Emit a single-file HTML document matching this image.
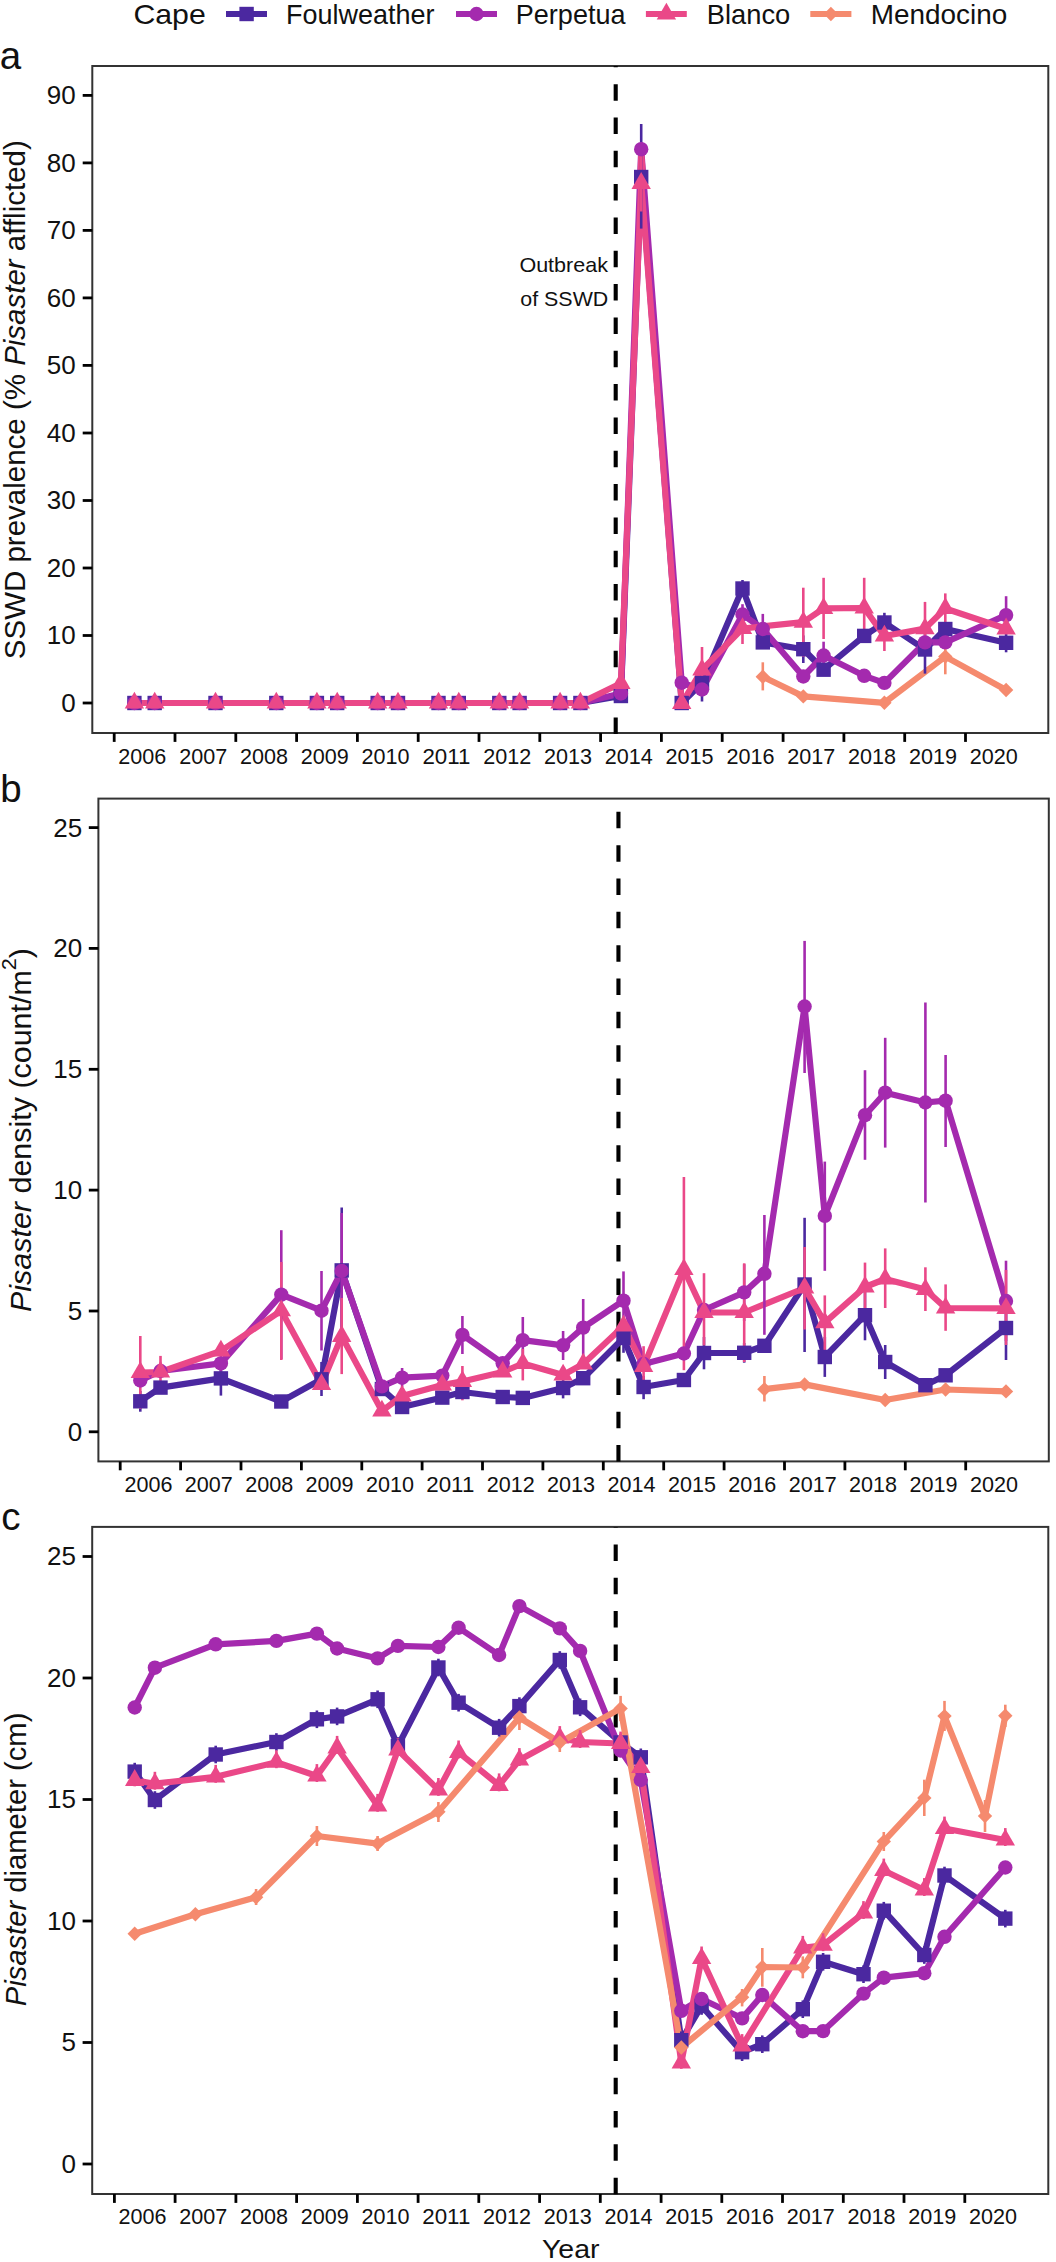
<!DOCTYPE html>
<html><head><meta charset="utf-8"><title>SSWD</title><style>
html,body{margin:0;padding:0;background:#fff;overflow:hidden;width:1056px;height:2262px;}
svg{display:block;}
text{font-family:"Liberation Sans",sans-serif;fill:#111;}
</style></head><body>
<svg width="1056" height="2262" viewBox="0 0 1056 2262">
<rect x="0" y="0" width="1056" height="2262" fill="#fff"/>
<text x="133.45" y="24.2" font-size="28.5" text-anchor="start" textLength="72.3" lengthAdjust="spacingAndGlyphs">Cape</text>
<line x1="226.0" y1="14" x2="267.0" y2="14" stroke="#4b28a0" stroke-width="6.2"/>
<rect x="239.4" y="6.8" width="14.4" height="14.4" fill="#4b28a0"/>
<text x="286.1" y="24.0" font-size="28.5" text-anchor="start" textLength="148.4" lengthAdjust="spacingAndGlyphs">Foulweather</text>
<line x1="456.0" y1="14" x2="497.0" y2="14" stroke="#a42aae" stroke-width="6.2"/>
<circle cx="476.5" cy="14.0" r="7.2" fill="#a42aae"/>
<text x="515.8" y="24.0" font-size="28.5" text-anchor="start" textLength="109.7" lengthAdjust="spacingAndGlyphs">Perpetua</text>
<line x1="645.9" y1="14" x2="686.8" y2="14" stroke="#ea4888" stroke-width="6.2"/>
<path d="M666.4,2.8L676.1,19.6L656.7,19.6Z" fill="#ea4888"/>
<text x="706.8" y="24.0" font-size="28.5" text-anchor="start" textLength="83.5" lengthAdjust="spacingAndGlyphs">Blanco</text>
<line x1="810.3" y1="14" x2="851.4" y2="14" stroke="#f58a6e" stroke-width="6.2"/>
<path d="M830.9,6.8L838.1,14.0L830.9,21.2L823.7,14.0Z" fill="#f58a6e"/>
<text x="870.8" y="24.0" font-size="28.5" text-anchor="start" textLength="136.5" lengthAdjust="spacingAndGlyphs">Mendocino</text>
<text x="-0.3" y="69.3" font-size="38.5" text-anchor="start">a</text>
<rect x="92.3" y="66.0" width="956.0" height="667.0" fill="none" stroke="#333" stroke-width="2.0"/>
<line x1="82.7" y1="703.0" x2="92.3" y2="703.0" stroke="#000" stroke-width="2.8"/>
<text x="75.6" y="711.9" font-size="26" text-anchor="end">0</text>
<line x1="82.7" y1="635.5" x2="92.3" y2="635.5" stroke="#000" stroke-width="2.8"/>
<text x="75.6" y="644.4" font-size="26" text-anchor="end">10</text>
<line x1="82.7" y1="568.0" x2="92.3" y2="568.0" stroke="#000" stroke-width="2.8"/>
<text x="75.6" y="576.9" font-size="26" text-anchor="end">20</text>
<line x1="82.7" y1="500.5" x2="92.3" y2="500.5" stroke="#000" stroke-width="2.8"/>
<text x="75.6" y="509.4" font-size="26" text-anchor="end">30</text>
<line x1="82.7" y1="433.0" x2="92.3" y2="433.0" stroke="#000" stroke-width="2.8"/>
<text x="75.6" y="441.9" font-size="26" text-anchor="end">40</text>
<line x1="82.7" y1="365.4" x2="92.3" y2="365.4" stroke="#000" stroke-width="2.8"/>
<text x="75.6" y="374.3" font-size="26" text-anchor="end">50</text>
<line x1="82.7" y1="297.9" x2="92.3" y2="297.9" stroke="#000" stroke-width="2.8"/>
<text x="75.6" y="306.8" font-size="26" text-anchor="end">60</text>
<line x1="82.7" y1="230.4" x2="92.3" y2="230.4" stroke="#000" stroke-width="2.8"/>
<text x="75.6" y="239.3" font-size="26" text-anchor="end">70</text>
<line x1="82.7" y1="162.9" x2="92.3" y2="162.9" stroke="#000" stroke-width="2.8"/>
<text x="75.6" y="171.8" font-size="26" text-anchor="end">80</text>
<line x1="82.7" y1="95.4" x2="92.3" y2="95.4" stroke="#000" stroke-width="2.8"/>
<text x="75.6" y="104.3" font-size="26" text-anchor="end">90</text>
<line x1="114.2" y1="733.0" x2="114.2" y2="741.9" stroke="#000" stroke-width="2.8"/>
<text x="142.3" y="763.9" font-size="22" text-anchor="middle" textLength="48" lengthAdjust="spacingAndGlyphs">2006</text>
<line x1="175.0" y1="733.0" x2="175.0" y2="741.9" stroke="#000" stroke-width="2.8"/>
<text x="203.2" y="763.9" font-size="22" text-anchor="middle" textLength="48" lengthAdjust="spacingAndGlyphs">2007</text>
<line x1="235.8" y1="733.0" x2="235.8" y2="741.9" stroke="#000" stroke-width="2.8"/>
<text x="264.0" y="763.9" font-size="22" text-anchor="middle" textLength="48" lengthAdjust="spacingAndGlyphs">2008</text>
<line x1="296.6" y1="733.0" x2="296.6" y2="741.9" stroke="#000" stroke-width="2.8"/>
<text x="324.8" y="763.9" font-size="22" text-anchor="middle" textLength="48" lengthAdjust="spacingAndGlyphs">2009</text>
<line x1="357.4" y1="733.0" x2="357.4" y2="741.9" stroke="#000" stroke-width="2.8"/>
<text x="385.6" y="763.9" font-size="22" text-anchor="middle" textLength="48" lengthAdjust="spacingAndGlyphs">2010</text>
<line x1="418.2" y1="733.0" x2="418.2" y2="741.9" stroke="#000" stroke-width="2.8"/>
<text x="446.4" y="763.9" font-size="22" text-anchor="middle" textLength="48" lengthAdjust="spacingAndGlyphs">2011</text>
<line x1="479.0" y1="733.0" x2="479.0" y2="741.9" stroke="#000" stroke-width="2.8"/>
<text x="507.2" y="763.9" font-size="22" text-anchor="middle" textLength="48" lengthAdjust="spacingAndGlyphs">2012</text>
<line x1="539.8" y1="733.0" x2="539.8" y2="741.9" stroke="#000" stroke-width="2.8"/>
<text x="568.0" y="763.9" font-size="22" text-anchor="middle" textLength="48" lengthAdjust="spacingAndGlyphs">2013</text>
<line x1="600.6" y1="733.0" x2="600.6" y2="741.9" stroke="#000" stroke-width="2.8"/>
<text x="628.8" y="763.9" font-size="22" text-anchor="middle" textLength="48" lengthAdjust="spacingAndGlyphs">2014</text>
<line x1="661.4" y1="733.0" x2="661.4" y2="741.9" stroke="#000" stroke-width="2.8"/>
<text x="689.6" y="763.9" font-size="22" text-anchor="middle" textLength="48" lengthAdjust="spacingAndGlyphs">2015</text>
<line x1="722.2" y1="733.0" x2="722.2" y2="741.9" stroke="#000" stroke-width="2.8"/>
<text x="750.5" y="763.9" font-size="22" text-anchor="middle" textLength="48" lengthAdjust="spacingAndGlyphs">2016</text>
<line x1="783.1" y1="733.0" x2="783.1" y2="741.9" stroke="#000" stroke-width="2.8"/>
<text x="811.3" y="763.9" font-size="22" text-anchor="middle" textLength="48" lengthAdjust="spacingAndGlyphs">2017</text>
<line x1="843.9" y1="733.0" x2="843.9" y2="741.9" stroke="#000" stroke-width="2.8"/>
<text x="872.1" y="763.9" font-size="22" text-anchor="middle" textLength="48" lengthAdjust="spacingAndGlyphs">2018</text>
<line x1="904.7" y1="733.0" x2="904.7" y2="741.9" stroke="#000" stroke-width="2.8"/>
<text x="932.9" y="763.9" font-size="22" text-anchor="middle" textLength="48" lengthAdjust="spacingAndGlyphs">2019</text>
<line x1="965.5" y1="733.0" x2="965.5" y2="741.9" stroke="#000" stroke-width="2.8"/>
<text x="993.7" y="763.9" font-size="22" text-anchor="middle" textLength="48" lengthAdjust="spacingAndGlyphs">2020</text>
<text x="608.0" y="271.8" font-size="21" text-anchor="end" textLength="88.6" lengthAdjust="spacingAndGlyphs">Outbreak</text>
<text x="608.3" y="305.6" font-size="21" text-anchor="end" textLength="88.0" lengthAdjust="spacingAndGlyphs">of SSWD</text>
<line x1="615.7" y1="733.9" x2="615.7" y2="66.0" stroke="#000" stroke-width="4.1" stroke-dasharray="16.5 16.83"/>
<polyline points="134.4,703.0 154.7,703.0 215.5,703.0 276.3,703.0 316.9,703.0 337.2,703.0 377.7,703.0 398.0,703.0 438.5,703.0 458.8,703.0 499.3,703.0 519.6,703.0 560.1,703.0 580.4,703.0 620.9,696.0 641.2,177.0 681.7,703.0 702.0,683.0 742.5,588.5 762.8,642.4 803.3,649.2 823.6,669.7 864.2,635.9 884.4,622.5 925.0,649.5 945.3,629.0 1006.1,642.8" fill="none" stroke="#4b28a0" stroke-width="6.2" stroke-linejoin="round" stroke-linecap="butt"/>
<polyline points="134.4,703.0 154.7,703.0 215.5,703.0 276.3,703.0 316.9,703.0 337.2,703.0 377.7,703.0 398.0,703.0 438.5,703.0 458.8,703.0 499.3,703.0 519.6,703.0 560.1,703.0 580.4,703.0 620.9,693.5 641.2,149.2 681.7,682.7 702.0,689.5 742.5,614.5 762.8,629.0 803.3,676.5 823.6,655.5 864.2,675.8 884.4,682.9 925.0,642.4 945.3,642.4 1006.1,615.1" fill="none" stroke="#a42aae" stroke-width="6.2" stroke-linejoin="round" stroke-linecap="butt"/>
<polyline points="134.4,703.0 154.7,703.0 215.5,703.0 276.3,703.0 316.9,703.0 337.2,703.0 377.7,703.0 398.0,703.0 438.5,703.0 458.8,703.0 499.3,703.0 519.6,703.0 560.1,703.0 580.4,703.0 620.9,683.3 641.2,183.3 681.7,703.5 702.0,669.8 742.5,628.5 803.3,622.2 823.6,608.4 864.2,608.0 884.4,636.0 925.0,628.6 945.3,608.5 1006.1,628.8" fill="none" stroke="#ea4888" stroke-width="6.2" stroke-linejoin="round" stroke-linecap="butt"/>
<polyline points="762.8,676.8 803.3,696.4 884.4,702.8 945.3,656.6 1006.1,690.0" fill="none" stroke="#f58a6e" stroke-width="6.2" stroke-linejoin="round" stroke-linecap="butt"/>
<clipPath id="neck"><rect x="628" y="149" width="26" height="32"/></clipPath>
<polyline clip-path="url(#neck)" points="620.9,693.5 641.2,149.2 681.7,682.7" fill="none" stroke="#ea4888" stroke-width="5.6000000000000005" stroke-linejoin="round"/>
<line x1="641.2" y1="124.0" x2="641.2" y2="228.6" stroke="#4b28a0" stroke-width="2.6"/>
<line x1="702.0" y1="668.0" x2="702.0" y2="701.5" stroke="#4b28a0" stroke-width="2.6"/>
<line x1="742.5" y1="580.0" x2="742.5" y2="597.0" stroke="#4b28a0" stroke-width="2.6"/>
<line x1="803.3" y1="635.4" x2="803.3" y2="663.0" stroke="#4b28a0" stroke-width="2.6"/>
<line x1="884.4" y1="612.8" x2="884.4" y2="632.2" stroke="#4b28a0" stroke-width="2.6"/>
<line x1="925.0" y1="625.4" x2="925.0" y2="673.6" stroke="#4b28a0" stroke-width="2.6"/>
<line x1="1006.1" y1="633.3" x2="1006.1" y2="652.3" stroke="#4b28a0" stroke-width="2.6"/>
<line x1="641.2" y1="142.0" x2="641.2" y2="156.0" stroke="#a42aae" stroke-width="2.6"/>
<line x1="742.5" y1="604.2" x2="742.5" y2="625.0" stroke="#a42aae" stroke-width="2.6"/>
<line x1="762.8" y1="613.9" x2="762.8" y2="644.0" stroke="#a42aae" stroke-width="2.6"/>
<line x1="823.6" y1="641.7" x2="823.6" y2="669.3" stroke="#a42aae" stroke-width="2.6"/>
<line x1="1006.1" y1="596.2" x2="1006.1" y2="634.0" stroke="#a42aae" stroke-width="2.6"/>
<line x1="641.2" y1="150.0" x2="641.2" y2="211.5" stroke="#ea4888" stroke-width="2.6"/>
<line x1="702.0" y1="647.0" x2="702.0" y2="690.8" stroke="#ea4888" stroke-width="2.6"/>
<line x1="742.5" y1="611.0" x2="742.5" y2="644.0" stroke="#ea4888" stroke-width="2.6"/>
<line x1="803.3" y1="587.7" x2="803.3" y2="656.7" stroke="#ea4888" stroke-width="2.6"/>
<line x1="823.6" y1="577.8" x2="823.6" y2="639.0" stroke="#ea4888" stroke-width="2.6"/>
<line x1="864.2" y1="577.8" x2="864.2" y2="638.2" stroke="#ea4888" stroke-width="2.6"/>
<line x1="884.4" y1="621.0" x2="884.4" y2="651.0" stroke="#ea4888" stroke-width="2.6"/>
<line x1="925.0" y1="601.9" x2="925.0" y2="655.3" stroke="#ea4888" stroke-width="2.6"/>
<line x1="945.3" y1="593.4" x2="945.3" y2="623.6" stroke="#ea4888" stroke-width="2.6"/>
<line x1="762.8" y1="662.3" x2="762.8" y2="690.4" stroke="#f58a6e" stroke-width="2.6"/>
<line x1="945.3" y1="639.0" x2="945.3" y2="674.3" stroke="#f58a6e" stroke-width="2.6"/>
<rect x="127.2" y="695.8" width="14.4" height="14.4" fill="#4b28a0"/>
<rect x="147.5" y="695.8" width="14.4" height="14.4" fill="#4b28a0"/>
<rect x="208.3" y="695.8" width="14.4" height="14.4" fill="#4b28a0"/>
<rect x="269.1" y="695.8" width="14.4" height="14.4" fill="#4b28a0"/>
<rect x="309.7" y="695.8" width="14.4" height="14.4" fill="#4b28a0"/>
<rect x="330.0" y="695.8" width="14.4" height="14.4" fill="#4b28a0"/>
<rect x="370.5" y="695.8" width="14.4" height="14.4" fill="#4b28a0"/>
<rect x="390.8" y="695.8" width="14.4" height="14.4" fill="#4b28a0"/>
<rect x="431.3" y="695.8" width="14.4" height="14.4" fill="#4b28a0"/>
<rect x="451.6" y="695.8" width="14.4" height="14.4" fill="#4b28a0"/>
<rect x="492.1" y="695.8" width="14.4" height="14.4" fill="#4b28a0"/>
<rect x="512.4" y="695.8" width="14.4" height="14.4" fill="#4b28a0"/>
<rect x="552.9" y="695.8" width="14.4" height="14.4" fill="#4b28a0"/>
<rect x="573.2" y="695.8" width="14.4" height="14.4" fill="#4b28a0"/>
<rect x="613.7" y="688.8" width="14.4" height="14.4" fill="#4b28a0"/>
<rect x="634.0" y="169.8" width="14.4" height="14.4" fill="#4b28a0"/>
<rect x="674.5" y="695.8" width="14.4" height="14.4" fill="#4b28a0"/>
<rect x="694.8" y="675.8" width="14.4" height="14.4" fill="#4b28a0"/>
<rect x="735.3" y="581.3" width="14.4" height="14.4" fill="#4b28a0"/>
<rect x="755.6" y="635.2" width="14.4" height="14.4" fill="#4b28a0"/>
<rect x="796.1" y="642.0" width="14.4" height="14.4" fill="#4b28a0"/>
<rect x="816.4" y="662.5" width="14.4" height="14.4" fill="#4b28a0"/>
<rect x="857.0" y="628.7" width="14.4" height="14.4" fill="#4b28a0"/>
<rect x="877.2" y="615.3" width="14.4" height="14.4" fill="#4b28a0"/>
<rect x="917.8" y="642.3" width="14.4" height="14.4" fill="#4b28a0"/>
<rect x="938.1" y="621.8" width="14.4" height="14.4" fill="#4b28a0"/>
<rect x="998.9" y="635.6" width="14.4" height="14.4" fill="#4b28a0"/>
<circle cx="134.4" cy="703.0" r="7.2" fill="#a42aae"/>
<circle cx="154.7" cy="703.0" r="7.2" fill="#a42aae"/>
<circle cx="215.5" cy="703.0" r="7.2" fill="#a42aae"/>
<circle cx="276.3" cy="703.0" r="7.2" fill="#a42aae"/>
<circle cx="316.9" cy="703.0" r="7.2" fill="#a42aae"/>
<circle cx="337.2" cy="703.0" r="7.2" fill="#a42aae"/>
<circle cx="377.7" cy="703.0" r="7.2" fill="#a42aae"/>
<circle cx="398.0" cy="703.0" r="7.2" fill="#a42aae"/>
<circle cx="438.5" cy="703.0" r="7.2" fill="#a42aae"/>
<circle cx="458.8" cy="703.0" r="7.2" fill="#a42aae"/>
<circle cx="499.3" cy="703.0" r="7.2" fill="#a42aae"/>
<circle cx="519.6" cy="703.0" r="7.2" fill="#a42aae"/>
<circle cx="560.1" cy="703.0" r="7.2" fill="#a42aae"/>
<circle cx="580.4" cy="703.0" r="7.2" fill="#a42aae"/>
<circle cx="620.9" cy="693.5" r="7.2" fill="#a42aae"/>
<circle cx="641.2" cy="149.2" r="7.2" fill="#a42aae"/>
<circle cx="681.7" cy="682.7" r="7.2" fill="#a42aae"/>
<circle cx="702.0" cy="689.5" r="7.2" fill="#a42aae"/>
<circle cx="742.5" cy="614.5" r="7.2" fill="#a42aae"/>
<circle cx="762.8" cy="629.0" r="7.2" fill="#a42aae"/>
<circle cx="803.3" cy="676.5" r="7.2" fill="#a42aae"/>
<circle cx="823.6" cy="655.5" r="7.2" fill="#a42aae"/>
<circle cx="864.2" cy="675.8" r="7.2" fill="#a42aae"/>
<circle cx="884.4" cy="682.9" r="7.2" fill="#a42aae"/>
<circle cx="925.0" cy="642.4" r="7.2" fill="#a42aae"/>
<circle cx="945.3" cy="642.4" r="7.2" fill="#a42aae"/>
<circle cx="1006.1" cy="615.1" r="7.2" fill="#a42aae"/>
<path d="M134.4,691.8L144.1,708.6L124.7,708.6Z" fill="#ea4888"/>
<path d="M154.7,691.8L164.4,708.6L145.0,708.6Z" fill="#ea4888"/>
<path d="M215.5,691.8L225.2,708.6L205.8,708.6Z" fill="#ea4888"/>
<path d="M276.3,691.8L286.0,708.6L266.6,708.6Z" fill="#ea4888"/>
<path d="M316.9,691.8L326.6,708.6L307.2,708.6Z" fill="#ea4888"/>
<path d="M337.2,691.8L346.9,708.6L327.5,708.6Z" fill="#ea4888"/>
<path d="M377.7,691.8L387.4,708.6L368.0,708.6Z" fill="#ea4888"/>
<path d="M398.0,691.8L407.7,708.6L388.3,708.6Z" fill="#ea4888"/>
<path d="M438.5,691.8L448.2,708.6L428.8,708.6Z" fill="#ea4888"/>
<path d="M458.8,691.8L468.5,708.6L449.1,708.6Z" fill="#ea4888"/>
<path d="M499.3,691.8L509.0,708.6L489.6,708.6Z" fill="#ea4888"/>
<path d="M519.6,691.8L529.3,708.6L509.9,708.6Z" fill="#ea4888"/>
<path d="M560.1,691.8L569.8,708.6L550.4,708.6Z" fill="#ea4888"/>
<path d="M580.4,691.8L590.1,708.6L570.7,708.6Z" fill="#ea4888"/>
<path d="M620.9,672.1L630.6,688.9L611.2,688.9Z" fill="#ea4888"/>
<path d="M641.2,172.1L650.9,188.9L631.5,188.9Z" fill="#ea4888"/>
<path d="M681.7,692.3L691.4,709.1L672.0,709.1Z" fill="#ea4888"/>
<path d="M702.0,658.6L711.7,675.4L692.3,675.4Z" fill="#ea4888"/>
<path d="M742.5,617.3L752.2,634.1L732.8,634.1Z" fill="#ea4888"/>
<path d="M803.3,611.0L813.0,627.8L793.6,627.8Z" fill="#ea4888"/>
<path d="M823.6,597.2L833.3,614.0L813.9,614.0Z" fill="#ea4888"/>
<path d="M864.2,596.8L873.9,613.6L854.5,613.6Z" fill="#ea4888"/>
<path d="M884.4,624.8L894.1,641.6L874.7,641.6Z" fill="#ea4888"/>
<path d="M925.0,617.4L934.7,634.2L915.3,634.2Z" fill="#ea4888"/>
<path d="M945.3,597.3L955.0,614.1L935.6,614.1Z" fill="#ea4888"/>
<path d="M1006.1,617.6L1015.8,634.4L996.4,634.4Z" fill="#ea4888"/>
<path d="M762.8,669.6L770.0,676.8L762.8,684.0L755.6,676.8Z" fill="#f58a6e"/>
<path d="M803.3,689.2L810.5,696.4L803.3,703.6L796.1,696.4Z" fill="#f58a6e"/>
<path d="M884.4,695.6L891.6,702.8L884.4,710.0L877.2,702.8Z" fill="#f58a6e"/>
<path d="M945.3,649.4L952.5,656.6L945.3,663.8L938.1,656.6Z" fill="#f58a6e"/>
<path d="M1006.1,682.8L1013.3,690.0L1006.1,697.2L998.9,690.0Z" fill="#f58a6e"/>
<text transform="translate(25.2,399.7) rotate(-90)" font-size="29.5" text-anchor="middle" textLength="519" lengthAdjust="spacingAndGlyphs">SSWD prevalence (% <tspan font-style="italic">Pisaster</tspan> afflicted)</text>
<text x="0.3" y="801.5" font-size="38.5" text-anchor="start">b</text>
<rect x="98.4" y="798.6" width="950.4" height="662.8" fill="none" stroke="#333" stroke-width="2.0"/>
<line x1="88.8" y1="1431.8" x2="98.4" y2="1431.8" stroke="#000" stroke-width="2.8"/>
<text x="82.2" y="1440.7" font-size="26" text-anchor="end">0</text>
<line x1="88.8" y1="1311.0" x2="98.4" y2="1311.0" stroke="#000" stroke-width="2.8"/>
<text x="82.2" y="1319.9" font-size="26" text-anchor="end">5</text>
<line x1="88.8" y1="1190.1" x2="98.4" y2="1190.1" stroke="#000" stroke-width="2.8"/>
<text x="82.2" y="1199.0" font-size="26" text-anchor="end">10</text>
<line x1="88.8" y1="1069.3" x2="98.4" y2="1069.3" stroke="#000" stroke-width="2.8"/>
<text x="82.2" y="1078.2" font-size="26" text-anchor="end">15</text>
<line x1="88.8" y1="948.4" x2="98.4" y2="948.4" stroke="#000" stroke-width="2.8"/>
<text x="82.2" y="957.3" font-size="26" text-anchor="end">20</text>
<line x1="88.8" y1="827.6" x2="98.4" y2="827.6" stroke="#000" stroke-width="2.8"/>
<text x="82.2" y="836.5" font-size="26" text-anchor="end">25</text>
<line x1="120.2" y1="1461.4" x2="120.2" y2="1470.3" stroke="#000" stroke-width="2.8"/>
<text x="148.4" y="1491.5" font-size="22" text-anchor="middle" textLength="48" lengthAdjust="spacingAndGlyphs">2006</text>
<line x1="180.6" y1="1461.4" x2="180.6" y2="1470.3" stroke="#000" stroke-width="2.8"/>
<text x="208.8" y="1491.5" font-size="22" text-anchor="middle" textLength="48" lengthAdjust="spacingAndGlyphs">2007</text>
<line x1="241.0" y1="1461.4" x2="241.0" y2="1470.3" stroke="#000" stroke-width="2.8"/>
<text x="269.2" y="1491.5" font-size="22" text-anchor="middle" textLength="48" lengthAdjust="spacingAndGlyphs">2008</text>
<line x1="301.4" y1="1461.4" x2="301.4" y2="1470.3" stroke="#000" stroke-width="2.8"/>
<text x="329.6" y="1491.5" font-size="22" text-anchor="middle" textLength="48" lengthAdjust="spacingAndGlyphs">2009</text>
<line x1="361.8" y1="1461.4" x2="361.8" y2="1470.3" stroke="#000" stroke-width="2.8"/>
<text x="390.0" y="1491.5" font-size="22" text-anchor="middle" textLength="48" lengthAdjust="spacingAndGlyphs">2010</text>
<line x1="422.1" y1="1461.4" x2="422.1" y2="1470.3" stroke="#000" stroke-width="2.8"/>
<text x="450.3" y="1491.5" font-size="22" text-anchor="middle" textLength="48" lengthAdjust="spacingAndGlyphs">2011</text>
<line x1="482.5" y1="1461.4" x2="482.5" y2="1470.3" stroke="#000" stroke-width="2.8"/>
<text x="510.7" y="1491.5" font-size="22" text-anchor="middle" textLength="48" lengthAdjust="spacingAndGlyphs">2012</text>
<line x1="542.9" y1="1461.4" x2="542.9" y2="1470.3" stroke="#000" stroke-width="2.8"/>
<text x="571.1" y="1491.5" font-size="22" text-anchor="middle" textLength="48" lengthAdjust="spacingAndGlyphs">2013</text>
<line x1="603.3" y1="1461.4" x2="603.3" y2="1470.3" stroke="#000" stroke-width="2.8"/>
<text x="631.5" y="1491.5" font-size="22" text-anchor="middle" textLength="48" lengthAdjust="spacingAndGlyphs">2014</text>
<line x1="663.7" y1="1461.4" x2="663.7" y2="1470.3" stroke="#000" stroke-width="2.8"/>
<text x="691.9" y="1491.5" font-size="22" text-anchor="middle" textLength="48" lengthAdjust="spacingAndGlyphs">2015</text>
<line x1="724.1" y1="1461.4" x2="724.1" y2="1470.3" stroke="#000" stroke-width="2.8"/>
<text x="752.3" y="1491.5" font-size="22" text-anchor="middle" textLength="48" lengthAdjust="spacingAndGlyphs">2016</text>
<line x1="784.5" y1="1461.4" x2="784.5" y2="1470.3" stroke="#000" stroke-width="2.8"/>
<text x="812.7" y="1491.5" font-size="22" text-anchor="middle" textLength="48" lengthAdjust="spacingAndGlyphs">2017</text>
<line x1="844.9" y1="1461.4" x2="844.9" y2="1470.3" stroke="#000" stroke-width="2.8"/>
<text x="873.1" y="1491.5" font-size="22" text-anchor="middle" textLength="48" lengthAdjust="spacingAndGlyphs">2018</text>
<line x1="905.3" y1="1461.4" x2="905.3" y2="1470.3" stroke="#000" stroke-width="2.8"/>
<text x="933.5" y="1491.5" font-size="22" text-anchor="middle" textLength="48" lengthAdjust="spacingAndGlyphs">2019</text>
<line x1="965.7" y1="1461.4" x2="965.7" y2="1470.3" stroke="#000" stroke-width="2.8"/>
<text x="993.9" y="1491.5" font-size="22" text-anchor="middle" textLength="48" lengthAdjust="spacingAndGlyphs">2020</text>
<line x1="618.45" y1="1461.6" x2="618.45" y2="798.6" stroke="#000" stroke-width="4.1" stroke-dasharray="16.5 16.83"/>
<polyline points="140.3,1401.3 160.5,1387.6 220.9,1378.4 281.3,1401.5 321.5,1379.3 341.7,1270.4 381.9,1389.0 402.1,1407.0 442.3,1397.6 462.4,1392.0 502.7,1397.0 522.8,1397.9 563.1,1388.0 583.2,1378.2 623.5,1338.0 643.6,1387.0 683.9,1380.0 704.0,1353.0 744.2,1352.8 764.4,1345.8 804.6,1284.5 824.8,1357.0 865.0,1315.2 885.2,1362.0 925.4,1385.2 945.6,1375.3 1006.0,1328.0" fill="none" stroke="#4b28a0" stroke-width="6.2" stroke-linejoin="round" stroke-linecap="butt"/>
<polyline points="140.3,1380.5 160.5,1371.0 220.9,1363.4 281.3,1294.6 321.5,1310.7 341.7,1271.0 381.9,1386.4 402.1,1377.7 442.3,1375.6 462.4,1334.9 502.7,1363.3 522.8,1340.2 563.1,1345.3 583.2,1327.6 623.5,1300.7 643.6,1364.0 683.9,1353.5 704.0,1310.0 744.2,1292.4 764.4,1273.8 804.6,1006.5 824.8,1215.9 865.0,1115.2 885.2,1092.7 925.4,1102.5 945.6,1100.7 1006.0,1301.0" fill="none" stroke="#a42aae" stroke-width="6.2" stroke-linejoin="round" stroke-linecap="butt"/>
<polyline points="140.3,1372.5 160.5,1372.0 220.9,1351.0 281.3,1310.7 321.5,1384.5 341.7,1336.3 381.9,1411.0 402.1,1396.0 442.3,1385.0 462.4,1381.4 502.7,1372.0 522.8,1363.5 563.1,1375.0 583.2,1364.0 623.5,1326.0 643.6,1366.4 683.9,1269.5 704.0,1312.5 744.2,1312.5 804.6,1288.0 824.8,1322.6 865.0,1287.0 885.2,1279.0 925.4,1289.5 945.6,1308.0 1006.0,1308.4" fill="none" stroke="#ea4888" stroke-width="6.2" stroke-linejoin="round" stroke-linecap="butt"/>
<polyline points="764.4,1389.2 804.6,1384.4 885.2,1400.0 945.6,1389.5 1006.0,1391.4" fill="none" stroke="#f58a6e" stroke-width="6.2" stroke-linejoin="round" stroke-linecap="butt"/>
<line x1="140.3" y1="1391.0" x2="140.3" y2="1411.7" stroke="#4b28a0" stroke-width="2.6"/>
<line x1="220.9" y1="1361.0" x2="220.9" y2="1395.6" stroke="#4b28a0" stroke-width="2.6"/>
<line x1="321.5" y1="1362.0" x2="321.5" y2="1396.0" stroke="#4b28a0" stroke-width="2.6"/>
<line x1="341.7" y1="1207.5" x2="341.7" y2="1334.0" stroke="#4b28a0" stroke-width="2.6"/>
<line x1="563.1" y1="1378.0" x2="563.1" y2="1398.4" stroke="#4b28a0" stroke-width="2.6"/>
<line x1="623.5" y1="1323.0" x2="623.5" y2="1352.8" stroke="#4b28a0" stroke-width="2.6"/>
<line x1="643.6" y1="1376.0" x2="643.6" y2="1399.2" stroke="#4b28a0" stroke-width="2.6"/>
<line x1="704.0" y1="1337.0" x2="704.0" y2="1369.3" stroke="#4b28a0" stroke-width="2.6"/>
<line x1="744.2" y1="1343.0" x2="744.2" y2="1362.7" stroke="#4b28a0" stroke-width="2.6"/>
<line x1="804.6" y1="1217.8" x2="804.6" y2="1352.0" stroke="#4b28a0" stroke-width="2.6"/>
<line x1="824.8" y1="1337.0" x2="824.8" y2="1376.9" stroke="#4b28a0" stroke-width="2.6"/>
<line x1="865.0" y1="1290.0" x2="865.0" y2="1340.3" stroke="#4b28a0" stroke-width="2.6"/>
<line x1="885.2" y1="1345.0" x2="885.2" y2="1379.0" stroke="#4b28a0" stroke-width="2.6"/>
<line x1="1006.0" y1="1300.0" x2="1006.0" y2="1360.0" stroke="#4b28a0" stroke-width="2.6"/>
<line x1="220.9" y1="1350.0" x2="220.9" y2="1377.0" stroke="#a42aae" stroke-width="2.6"/>
<line x1="281.3" y1="1230.2" x2="281.3" y2="1359.0" stroke="#a42aae" stroke-width="2.6"/>
<line x1="321.5" y1="1271.0" x2="321.5" y2="1350.5" stroke="#a42aae" stroke-width="2.6"/>
<line x1="341.7" y1="1213.0" x2="341.7" y2="1330.0" stroke="#a42aae" stroke-width="2.6"/>
<line x1="402.1" y1="1368.0" x2="402.1" y2="1387.0" stroke="#a42aae" stroke-width="2.6"/>
<line x1="462.4" y1="1316.0" x2="462.4" y2="1354.0" stroke="#a42aae" stroke-width="2.6"/>
<line x1="522.8" y1="1317.0" x2="522.8" y2="1363.0" stroke="#a42aae" stroke-width="2.6"/>
<line x1="563.1" y1="1331.0" x2="563.1" y2="1360.0" stroke="#a42aae" stroke-width="2.6"/>
<line x1="583.2" y1="1299.0" x2="583.2" y2="1356.0" stroke="#a42aae" stroke-width="2.6"/>
<line x1="623.5" y1="1271.4" x2="623.5" y2="1330.0" stroke="#a42aae" stroke-width="2.6"/>
<line x1="744.2" y1="1264.2" x2="744.2" y2="1321.0" stroke="#a42aae" stroke-width="2.6"/>
<line x1="764.4" y1="1215.0" x2="764.4" y2="1334.8" stroke="#a42aae" stroke-width="2.6"/>
<line x1="804.6" y1="940.9" x2="804.6" y2="1073.0" stroke="#a42aae" stroke-width="2.6"/>
<line x1="824.8" y1="1161.6" x2="824.8" y2="1270.8" stroke="#a42aae" stroke-width="2.6"/>
<line x1="865.0" y1="1070.2" x2="865.0" y2="1159.8" stroke="#a42aae" stroke-width="2.6"/>
<line x1="885.2" y1="1037.8" x2="885.2" y2="1147.6" stroke="#a42aae" stroke-width="2.6"/>
<line x1="925.4" y1="1002.5" x2="925.4" y2="1202.5" stroke="#a42aae" stroke-width="2.6"/>
<line x1="945.6" y1="1055.0" x2="945.6" y2="1147.0" stroke="#a42aae" stroke-width="2.6"/>
<line x1="1006.0" y1="1260.7" x2="1006.0" y2="1341.0" stroke="#a42aae" stroke-width="2.6"/>
<line x1="140.3" y1="1336.0" x2="140.3" y2="1409.0" stroke="#ea4888" stroke-width="2.6"/>
<line x1="160.5" y1="1355.9" x2="160.5" y2="1388.0" stroke="#ea4888" stroke-width="2.6"/>
<line x1="281.3" y1="1262.0" x2="281.3" y2="1360.0" stroke="#ea4888" stroke-width="2.6"/>
<line x1="341.7" y1="1298.0" x2="341.7" y2="1374.1" stroke="#ea4888" stroke-width="2.6"/>
<line x1="462.4" y1="1366.0" x2="462.4" y2="1400.3" stroke="#ea4888" stroke-width="2.6"/>
<line x1="522.8" y1="1349.0" x2="522.8" y2="1380.4" stroke="#ea4888" stroke-width="2.6"/>
<line x1="643.6" y1="1346.2" x2="643.6" y2="1386.0" stroke="#ea4888" stroke-width="2.6"/>
<line x1="683.9" y1="1177.0" x2="683.9" y2="1370.2" stroke="#ea4888" stroke-width="2.6"/>
<line x1="704.0" y1="1273.2" x2="704.0" y2="1345.5" stroke="#ea4888" stroke-width="2.6"/>
<line x1="744.2" y1="1263.3" x2="744.2" y2="1362.0" stroke="#ea4888" stroke-width="2.6"/>
<line x1="804.6" y1="1247.0" x2="804.6" y2="1329.5" stroke="#ea4888" stroke-width="2.6"/>
<line x1="824.8" y1="1295.4" x2="824.8" y2="1350.0" stroke="#ea4888" stroke-width="2.6"/>
<line x1="865.0" y1="1262.6" x2="865.0" y2="1311.0" stroke="#ea4888" stroke-width="2.6"/>
<line x1="885.2" y1="1248.4" x2="885.2" y2="1308.0" stroke="#ea4888" stroke-width="2.6"/>
<line x1="925.4" y1="1267.3" x2="925.4" y2="1311.0" stroke="#ea4888" stroke-width="2.6"/>
<line x1="945.6" y1="1284.4" x2="945.6" y2="1330.8" stroke="#ea4888" stroke-width="2.6"/>
<line x1="1006.0" y1="1270.0" x2="1006.0" y2="1345.0" stroke="#ea4888" stroke-width="2.6"/>
<line x1="764.4" y1="1376.0" x2="764.4" y2="1401.5" stroke="#f58a6e" stroke-width="2.6"/>
<rect x="133.1" y="1394.1" width="14.4" height="14.4" fill="#4b28a0"/>
<rect x="153.3" y="1380.4" width="14.4" height="14.4" fill="#4b28a0"/>
<rect x="213.7" y="1371.2" width="14.4" height="14.4" fill="#4b28a0"/>
<rect x="274.1" y="1394.3" width="14.4" height="14.4" fill="#4b28a0"/>
<rect x="314.3" y="1372.1" width="14.4" height="14.4" fill="#4b28a0"/>
<rect x="334.5" y="1263.2" width="14.4" height="14.4" fill="#4b28a0"/>
<rect x="374.7" y="1381.8" width="14.4" height="14.4" fill="#4b28a0"/>
<rect x="394.9" y="1399.8" width="14.4" height="14.4" fill="#4b28a0"/>
<rect x="435.1" y="1390.4" width="14.4" height="14.4" fill="#4b28a0"/>
<rect x="455.2" y="1384.8" width="14.4" height="14.4" fill="#4b28a0"/>
<rect x="495.5" y="1389.8" width="14.4" height="14.4" fill="#4b28a0"/>
<rect x="515.6" y="1390.7" width="14.4" height="14.4" fill="#4b28a0"/>
<rect x="555.9" y="1380.8" width="14.4" height="14.4" fill="#4b28a0"/>
<rect x="576.0" y="1371.0" width="14.4" height="14.4" fill="#4b28a0"/>
<rect x="616.3" y="1330.8" width="14.4" height="14.4" fill="#4b28a0"/>
<rect x="636.4" y="1379.8" width="14.4" height="14.4" fill="#4b28a0"/>
<rect x="676.7" y="1372.8" width="14.4" height="14.4" fill="#4b28a0"/>
<rect x="696.8" y="1345.8" width="14.4" height="14.4" fill="#4b28a0"/>
<rect x="737.0" y="1345.6" width="14.4" height="14.4" fill="#4b28a0"/>
<rect x="757.2" y="1338.6" width="14.4" height="14.4" fill="#4b28a0"/>
<rect x="797.4" y="1277.3" width="14.4" height="14.4" fill="#4b28a0"/>
<rect x="817.6" y="1349.8" width="14.4" height="14.4" fill="#4b28a0"/>
<rect x="857.8" y="1308.0" width="14.4" height="14.4" fill="#4b28a0"/>
<rect x="878.0" y="1354.8" width="14.4" height="14.4" fill="#4b28a0"/>
<rect x="918.2" y="1378.0" width="14.4" height="14.4" fill="#4b28a0"/>
<rect x="938.4" y="1368.1" width="14.4" height="14.4" fill="#4b28a0"/>
<rect x="998.8" y="1320.8" width="14.4" height="14.4" fill="#4b28a0"/>
<circle cx="140.3" cy="1380.5" r="7.2" fill="#a42aae"/>
<circle cx="160.5" cy="1371.0" r="7.2" fill="#a42aae"/>
<circle cx="220.9" cy="1363.4" r="7.2" fill="#a42aae"/>
<circle cx="281.3" cy="1294.6" r="7.2" fill="#a42aae"/>
<circle cx="321.5" cy="1310.7" r="7.2" fill="#a42aae"/>
<circle cx="341.7" cy="1271.0" r="7.2" fill="#a42aae"/>
<circle cx="381.9" cy="1386.4" r="7.2" fill="#a42aae"/>
<circle cx="402.1" cy="1377.7" r="7.2" fill="#a42aae"/>
<circle cx="442.3" cy="1375.6" r="7.2" fill="#a42aae"/>
<circle cx="462.4" cy="1334.9" r="7.2" fill="#a42aae"/>
<circle cx="502.7" cy="1363.3" r="7.2" fill="#a42aae"/>
<circle cx="522.8" cy="1340.2" r="7.2" fill="#a42aae"/>
<circle cx="563.1" cy="1345.3" r="7.2" fill="#a42aae"/>
<circle cx="583.2" cy="1327.6" r="7.2" fill="#a42aae"/>
<circle cx="623.5" cy="1300.7" r="7.2" fill="#a42aae"/>
<circle cx="643.6" cy="1364.0" r="7.2" fill="#a42aae"/>
<circle cx="683.9" cy="1353.5" r="7.2" fill="#a42aae"/>
<circle cx="704.0" cy="1310.0" r="7.2" fill="#a42aae"/>
<circle cx="744.2" cy="1292.4" r="7.2" fill="#a42aae"/>
<circle cx="764.4" cy="1273.8" r="7.2" fill="#a42aae"/>
<circle cx="804.6" cy="1006.5" r="7.2" fill="#a42aae"/>
<circle cx="824.8" cy="1215.9" r="7.2" fill="#a42aae"/>
<circle cx="865.0" cy="1115.2" r="7.2" fill="#a42aae"/>
<circle cx="885.2" cy="1092.7" r="7.2" fill="#a42aae"/>
<circle cx="925.4" cy="1102.5" r="7.2" fill="#a42aae"/>
<circle cx="945.6" cy="1100.7" r="7.2" fill="#a42aae"/>
<circle cx="1006.0" cy="1301.0" r="7.2" fill="#a42aae"/>
<path d="M140.3,1361.3L150.0,1378.1L130.6,1378.1Z" fill="#ea4888"/>
<path d="M160.5,1360.8L170.2,1377.6L150.8,1377.6Z" fill="#ea4888"/>
<path d="M220.9,1339.8L230.6,1356.6L211.2,1356.6Z" fill="#ea4888"/>
<path d="M281.3,1299.5L291.0,1316.3L271.6,1316.3Z" fill="#ea4888"/>
<path d="M321.5,1373.3L331.2,1390.1L311.8,1390.1Z" fill="#ea4888"/>
<path d="M341.7,1325.1L351.4,1341.9L332.0,1341.9Z" fill="#ea4888"/>
<path d="M381.9,1399.8L391.6,1416.6L372.2,1416.6Z" fill="#ea4888"/>
<path d="M402.1,1384.8L411.8,1401.6L392.4,1401.6Z" fill="#ea4888"/>
<path d="M442.3,1373.8L452.0,1390.6L432.6,1390.6Z" fill="#ea4888"/>
<path d="M462.4,1370.2L472.1,1387.0L452.7,1387.0Z" fill="#ea4888"/>
<path d="M502.7,1360.8L512.4,1377.6L493.0,1377.6Z" fill="#ea4888"/>
<path d="M522.8,1352.3L532.5,1369.1L513.1,1369.1Z" fill="#ea4888"/>
<path d="M563.1,1363.8L572.8,1380.6L553.4,1380.6Z" fill="#ea4888"/>
<path d="M583.2,1352.8L592.9,1369.6L573.5,1369.6Z" fill="#ea4888"/>
<path d="M623.5,1314.8L633.2,1331.6L613.8,1331.6Z" fill="#ea4888"/>
<path d="M643.6,1355.2L653.3,1372.0L633.9,1372.0Z" fill="#ea4888"/>
<path d="M683.9,1258.3L693.6,1275.1L674.2,1275.1Z" fill="#ea4888"/>
<path d="M704.0,1301.3L713.7,1318.1L694.3,1318.1Z" fill="#ea4888"/>
<path d="M744.2,1301.3L753.9,1318.1L734.5,1318.1Z" fill="#ea4888"/>
<path d="M804.6,1276.8L814.3,1293.6L794.9,1293.6Z" fill="#ea4888"/>
<path d="M824.8,1311.4L834.5,1328.2L815.1,1328.2Z" fill="#ea4888"/>
<path d="M865.0,1275.8L874.7,1292.6L855.3,1292.6Z" fill="#ea4888"/>
<path d="M885.2,1267.8L894.9,1284.6L875.5,1284.6Z" fill="#ea4888"/>
<path d="M925.4,1278.3L935.1,1295.1L915.7,1295.1Z" fill="#ea4888"/>
<path d="M945.6,1296.8L955.3,1313.6L935.9,1313.6Z" fill="#ea4888"/>
<path d="M1006.0,1297.2L1015.7,1314.0L996.3,1314.0Z" fill="#ea4888"/>
<path d="M764.4,1382.0L771.6,1389.2L764.4,1396.4L757.2,1389.2Z" fill="#f58a6e"/>
<path d="M804.6,1377.2L811.8,1384.4L804.6,1391.6L797.4,1384.4Z" fill="#f58a6e"/>
<path d="M885.2,1392.8L892.4,1400.0L885.2,1407.2L878.0,1400.0Z" fill="#f58a6e"/>
<path d="M945.6,1382.3L952.8,1389.5L945.6,1396.7L938.4,1389.5Z" fill="#f58a6e"/>
<path d="M1006.0,1384.2L1013.2,1391.4L1006.0,1398.6L998.8,1391.4Z" fill="#f58a6e"/>
<text transform="translate(30.9,1130) rotate(-90)" font-size="29.5" text-anchor="middle" textLength="364" lengthAdjust="spacingAndGlyphs"><tspan font-style="italic">Pisaster</tspan> density (count/m<tspan font-size="21" dy="-15">2</tspan><tspan dy="15">)</tspan></text>
<text x="1.3" y="1530.3" font-size="38.5" text-anchor="start">c</text>
<rect x="92.2" y="1526.9" width="956.1" height="667.1" fill="none" stroke="#333" stroke-width="2.0"/>
<line x1="82.6" y1="2164.0" x2="92.2" y2="2164.0" stroke="#000" stroke-width="2.8"/>
<text x="75.9" y="2172.9" font-size="26" text-anchor="end">0</text>
<line x1="82.6" y1="2042.5" x2="92.2" y2="2042.5" stroke="#000" stroke-width="2.8"/>
<text x="75.9" y="2051.4" font-size="26" text-anchor="end">5</text>
<line x1="82.6" y1="1921.0" x2="92.2" y2="1921.0" stroke="#000" stroke-width="2.8"/>
<text x="75.9" y="1929.9" font-size="26" text-anchor="end">10</text>
<line x1="82.6" y1="1799.5" x2="92.2" y2="1799.5" stroke="#000" stroke-width="2.8"/>
<text x="75.9" y="1808.4" font-size="26" text-anchor="end">15</text>
<line x1="82.6" y1="1678.0" x2="92.2" y2="1678.0" stroke="#000" stroke-width="2.8"/>
<text x="75.9" y="1686.9" font-size="26" text-anchor="end">20</text>
<line x1="82.6" y1="1556.5" x2="92.2" y2="1556.5" stroke="#000" stroke-width="2.8"/>
<text x="75.9" y="1565.4" font-size="26" text-anchor="end">25</text>
<line x1="114.4" y1="2194.0" x2="114.4" y2="2202.9" stroke="#000" stroke-width="2.8"/>
<text x="142.6" y="2224.2" font-size="22" text-anchor="middle" textLength="48" lengthAdjust="spacingAndGlyphs">2006</text>
<line x1="175.1" y1="2194.0" x2="175.1" y2="2202.9" stroke="#000" stroke-width="2.8"/>
<text x="203.3" y="2224.2" font-size="22" text-anchor="middle" textLength="48" lengthAdjust="spacingAndGlyphs">2007</text>
<line x1="235.9" y1="2194.0" x2="235.9" y2="2202.9" stroke="#000" stroke-width="2.8"/>
<text x="264.1" y="2224.2" font-size="22" text-anchor="middle" textLength="48" lengthAdjust="spacingAndGlyphs">2008</text>
<line x1="296.6" y1="2194.0" x2="296.6" y2="2202.9" stroke="#000" stroke-width="2.8"/>
<text x="324.8" y="2224.2" font-size="22" text-anchor="middle" textLength="48" lengthAdjust="spacingAndGlyphs">2009</text>
<line x1="357.4" y1="2194.0" x2="357.4" y2="2202.9" stroke="#000" stroke-width="2.8"/>
<text x="385.6" y="2224.2" font-size="22" text-anchor="middle" textLength="48" lengthAdjust="spacingAndGlyphs">2010</text>
<line x1="418.1" y1="2194.0" x2="418.1" y2="2202.9" stroke="#000" stroke-width="2.8"/>
<text x="446.3" y="2224.2" font-size="22" text-anchor="middle" textLength="48" lengthAdjust="spacingAndGlyphs">2011</text>
<line x1="478.8" y1="2194.0" x2="478.8" y2="2202.9" stroke="#000" stroke-width="2.8"/>
<text x="507.0" y="2224.2" font-size="22" text-anchor="middle" textLength="48" lengthAdjust="spacingAndGlyphs">2012</text>
<line x1="539.6" y1="2194.0" x2="539.6" y2="2202.9" stroke="#000" stroke-width="2.8"/>
<text x="567.8" y="2224.2" font-size="22" text-anchor="middle" textLength="48" lengthAdjust="spacingAndGlyphs">2013</text>
<line x1="600.3" y1="2194.0" x2="600.3" y2="2202.9" stroke="#000" stroke-width="2.8"/>
<text x="628.5" y="2224.2" font-size="22" text-anchor="middle" textLength="48" lengthAdjust="spacingAndGlyphs">2014</text>
<line x1="661.1" y1="2194.0" x2="661.1" y2="2202.9" stroke="#000" stroke-width="2.8"/>
<text x="689.3" y="2224.2" font-size="22" text-anchor="middle" textLength="48" lengthAdjust="spacingAndGlyphs">2015</text>
<line x1="721.8" y1="2194.0" x2="721.8" y2="2202.9" stroke="#000" stroke-width="2.8"/>
<text x="750.0" y="2224.2" font-size="22" text-anchor="middle" textLength="48" lengthAdjust="spacingAndGlyphs">2016</text>
<line x1="782.5" y1="2194.0" x2="782.5" y2="2202.9" stroke="#000" stroke-width="2.8"/>
<text x="810.7" y="2224.2" font-size="22" text-anchor="middle" textLength="48" lengthAdjust="spacingAndGlyphs">2017</text>
<line x1="843.3" y1="2194.0" x2="843.3" y2="2202.9" stroke="#000" stroke-width="2.8"/>
<text x="871.5" y="2224.2" font-size="22" text-anchor="middle" textLength="48" lengthAdjust="spacingAndGlyphs">2018</text>
<line x1="904.0" y1="2194.0" x2="904.0" y2="2202.9" stroke="#000" stroke-width="2.8"/>
<text x="932.2" y="2224.2" font-size="22" text-anchor="middle" textLength="48" lengthAdjust="spacingAndGlyphs">2019</text>
<line x1="964.8" y1="2194.0" x2="964.8" y2="2202.9" stroke="#000" stroke-width="2.8"/>
<text x="993.0" y="2224.2" font-size="22" text-anchor="middle" textLength="48" lengthAdjust="spacingAndGlyphs">2020</text>
<line x1="615.7" y1="2194.2" x2="615.7" y2="1526.9" stroke="#000" stroke-width="4.1" stroke-dasharray="16.5 16.83"/>
<polyline points="134.7,1771.6 154.9,1800.0 215.7,1754.5 276.4,1742.0 316.9,1719.3 337.1,1716.4 377.6,1699.3 397.9,1746.0 438.4,1667.5 458.6,1702.7 499.1,1727.7 519.4,1706.1 559.8,1660.0 580.1,1707.3 620.6,1742.5 640.8,1757.3 681.3,2040.2 701.6,2006.0 742.1,2052.2 762.3,2044.2 802.8,2009.2 823.1,1961.8 863.5,1974.2 883.8,1910.7 924.3,1955.0 944.5,1875.5 1005.3,1918.6" fill="none" stroke="#4b28a0" stroke-width="6.2" stroke-linejoin="round" stroke-linecap="butt"/>
<polyline points="134.7,1707.5 154.9,1667.7 215.7,1644.3 276.4,1640.9 316.9,1633.6 337.1,1648.5 377.6,1658.4 397.9,1645.9 438.4,1647.0 458.6,1627.7 499.1,1655.0 519.4,1606.1 559.8,1628.4 580.1,1650.9 620.6,1750.5 640.8,1780.0 681.3,2010.8 701.6,1999.0 742.1,2018.4 762.3,1995.0 802.8,2031.2 823.1,2031.1 863.5,1993.6 883.8,1977.7 924.3,1973.2 944.5,1936.8 1005.3,1867.5" fill="none" stroke="#a42aae" stroke-width="6.2" stroke-linejoin="round" stroke-linecap="butt"/>
<polyline points="134.7,1780.3 154.9,1783.7 215.7,1776.8 276.4,1762.2 316.9,1776.0 337.1,1747.8 377.6,1805.8 397.9,1750.0 438.4,1789.9 458.6,1752.4 499.1,1785.3 519.4,1760.0 559.8,1738.0 580.1,1742.0 620.6,1743.5 640.8,1767.5 681.3,2062.8 701.6,1958.4 742.1,2046.0 802.8,1947.8 823.1,1945.2 863.5,1913.0 883.8,1870.5 924.3,1890.0 944.5,1828.5 1005.3,1840.0" fill="none" stroke="#ea4888" stroke-width="6.2" stroke-linejoin="round" stroke-linecap="butt"/>
<polyline points="134.7,1933.7 195.4,1914.3 256.1,1897.3 316.9,1836.0 377.6,1843.6 438.4,1811.8 519.4,1717.5 559.8,1742.5 620.6,1708.4 681.3,2047.5 742.1,1997.2 762.3,1967.0 802.8,1967.5 883.8,1841.4 924.3,1797.9 944.5,1716.1 985.0,1816.1 1005.3,1715.8" fill="none" stroke="#f58a6e" stroke-width="6.2" stroke-linejoin="round" stroke-linecap="butt"/>
<line x1="134.7" y1="1762.8" x2="134.7" y2="1780.4" stroke="#4b28a0" stroke-width="2.6"/>
<line x1="154.9" y1="1791.2" x2="154.9" y2="1808.8" stroke="#4b28a0" stroke-width="2.6"/>
<line x1="215.7" y1="1745.7" x2="215.7" y2="1763.3" stroke="#4b28a0" stroke-width="2.6"/>
<line x1="276.4" y1="1733.2" x2="276.4" y2="1750.8" stroke="#4b28a0" stroke-width="2.6"/>
<line x1="316.9" y1="1710.5" x2="316.9" y2="1728.1" stroke="#4b28a0" stroke-width="2.6"/>
<line x1="337.1" y1="1707.6" x2="337.1" y2="1725.2" stroke="#4b28a0" stroke-width="2.6"/>
<line x1="377.6" y1="1690.5" x2="377.6" y2="1708.1" stroke="#4b28a0" stroke-width="2.6"/>
<line x1="397.9" y1="1737.2" x2="397.9" y2="1754.8" stroke="#4b28a0" stroke-width="2.6"/>
<line x1="438.4" y1="1658.7" x2="438.4" y2="1676.3" stroke="#4b28a0" stroke-width="2.6"/>
<line x1="458.6" y1="1693.9" x2="458.6" y2="1711.5" stroke="#4b28a0" stroke-width="2.6"/>
<line x1="499.1" y1="1718.9" x2="499.1" y2="1736.5" stroke="#4b28a0" stroke-width="2.6"/>
<line x1="519.4" y1="1697.3" x2="519.4" y2="1714.9" stroke="#4b28a0" stroke-width="2.6"/>
<line x1="559.8" y1="1651.2" x2="559.8" y2="1668.8" stroke="#4b28a0" stroke-width="2.6"/>
<line x1="580.1" y1="1698.5" x2="580.1" y2="1716.1" stroke="#4b28a0" stroke-width="2.6"/>
<line x1="620.6" y1="1733.7" x2="620.6" y2="1751.3" stroke="#4b28a0" stroke-width="2.6"/>
<line x1="640.8" y1="1748.5" x2="640.8" y2="1766.1" stroke="#4b28a0" stroke-width="2.6"/>
<line x1="681.3" y1="2031.4" x2="681.3" y2="2049.0" stroke="#4b28a0" stroke-width="2.6"/>
<line x1="701.6" y1="1997.2" x2="701.6" y2="2014.8" stroke="#4b28a0" stroke-width="2.6"/>
<line x1="742.1" y1="2043.4" x2="742.1" y2="2061.0" stroke="#4b28a0" stroke-width="2.6"/>
<line x1="762.3" y1="2035.4" x2="762.3" y2="2053.0" stroke="#4b28a0" stroke-width="2.6"/>
<line x1="802.8" y1="2000.4" x2="802.8" y2="2018.0" stroke="#4b28a0" stroke-width="2.6"/>
<line x1="823.1" y1="1953.0" x2="823.1" y2="1970.6" stroke="#4b28a0" stroke-width="2.6"/>
<line x1="863.5" y1="1965.4" x2="863.5" y2="1983.0" stroke="#4b28a0" stroke-width="2.6"/>
<line x1="883.8" y1="1901.9" x2="883.8" y2="1919.5" stroke="#4b28a0" stroke-width="2.6"/>
<line x1="924.3" y1="1946.2" x2="924.3" y2="1963.8" stroke="#4b28a0" stroke-width="2.6"/>
<line x1="944.5" y1="1866.7" x2="944.5" y2="1884.3" stroke="#4b28a0" stroke-width="2.6"/>
<line x1="1005.3" y1="1909.8" x2="1005.3" y2="1927.4" stroke="#4b28a0" stroke-width="2.6"/>
<line x1="134.7" y1="1768.4" x2="134.7" y2="1786.3" stroke="#ea4888" stroke-width="2.6"/>
<line x1="154.9" y1="1771.8" x2="154.9" y2="1789.7" stroke="#ea4888" stroke-width="2.6"/>
<line x1="215.7" y1="1764.9" x2="215.7" y2="1782.8" stroke="#ea4888" stroke-width="2.6"/>
<line x1="276.4" y1="1750.3" x2="276.4" y2="1768.2" stroke="#ea4888" stroke-width="2.6"/>
<line x1="316.9" y1="1764.1" x2="316.9" y2="1782.0" stroke="#ea4888" stroke-width="2.6"/>
<line x1="337.1" y1="1735.9" x2="337.1" y2="1753.8" stroke="#ea4888" stroke-width="2.6"/>
<line x1="377.6" y1="1793.9" x2="377.6" y2="1811.8" stroke="#ea4888" stroke-width="2.6"/>
<line x1="397.9" y1="1738.1" x2="397.9" y2="1756.0" stroke="#ea4888" stroke-width="2.6"/>
<line x1="438.4" y1="1778.0" x2="438.4" y2="1795.9" stroke="#ea4888" stroke-width="2.6"/>
<line x1="458.6" y1="1740.5" x2="458.6" y2="1758.4" stroke="#ea4888" stroke-width="2.6"/>
<line x1="499.1" y1="1773.4" x2="499.1" y2="1791.3" stroke="#ea4888" stroke-width="2.6"/>
<line x1="519.4" y1="1748.1" x2="519.4" y2="1766.0" stroke="#ea4888" stroke-width="2.6"/>
<line x1="559.8" y1="1726.1" x2="559.8" y2="1744.0" stroke="#ea4888" stroke-width="2.6"/>
<line x1="580.1" y1="1730.1" x2="580.1" y2="1748.0" stroke="#ea4888" stroke-width="2.6"/>
<line x1="620.6" y1="1731.6" x2="620.6" y2="1749.5" stroke="#ea4888" stroke-width="2.6"/>
<line x1="640.8" y1="1755.6" x2="640.8" y2="1773.5" stroke="#ea4888" stroke-width="2.6"/>
<line x1="681.3" y1="2050.9" x2="681.3" y2="2068.8" stroke="#ea4888" stroke-width="2.6"/>
<line x1="701.6" y1="1946.5" x2="701.6" y2="1964.4" stroke="#ea4888" stroke-width="2.6"/>
<line x1="742.1" y1="2034.1" x2="742.1" y2="2052.0" stroke="#ea4888" stroke-width="2.6"/>
<line x1="802.8" y1="1935.9" x2="802.8" y2="1953.8" stroke="#ea4888" stroke-width="2.6"/>
<line x1="823.1" y1="1933.3" x2="823.1" y2="1951.2" stroke="#ea4888" stroke-width="2.6"/>
<line x1="863.5" y1="1901.1" x2="863.5" y2="1919.0" stroke="#ea4888" stroke-width="2.6"/>
<line x1="883.8" y1="1858.6" x2="883.8" y2="1876.5" stroke="#ea4888" stroke-width="2.6"/>
<line x1="924.3" y1="1878.1" x2="924.3" y2="1896.0" stroke="#ea4888" stroke-width="2.6"/>
<line x1="944.5" y1="1816.6" x2="944.5" y2="1834.5" stroke="#ea4888" stroke-width="2.6"/>
<line x1="1005.3" y1="1828.1" x2="1005.3" y2="1846.0" stroke="#ea4888" stroke-width="2.6"/>
<line x1="256.1" y1="1889.0" x2="256.1" y2="1905.0" stroke="#f58a6e" stroke-width="2.6"/>
<line x1="316.9" y1="1826.0" x2="316.9" y2="1846.0" stroke="#f58a6e" stroke-width="2.6"/>
<line x1="377.6" y1="1836.0" x2="377.6" y2="1851.0" stroke="#f58a6e" stroke-width="2.6"/>
<line x1="519.4" y1="1705.0" x2="519.4" y2="1730.0" stroke="#f58a6e" stroke-width="2.6"/>
<line x1="620.6" y1="1695.9" x2="620.6" y2="1721.0" stroke="#f58a6e" stroke-width="2.6"/>
<line x1="742.1" y1="1989.0" x2="742.1" y2="2006.4" stroke="#f58a6e" stroke-width="2.6"/>
<line x1="762.3" y1="1948.0" x2="762.3" y2="1986.7" stroke="#f58a6e" stroke-width="2.6"/>
<line x1="802.8" y1="1956.4" x2="802.8" y2="1978.3" stroke="#f58a6e" stroke-width="2.6"/>
<line x1="883.8" y1="1832.0" x2="883.8" y2="1851.0" stroke="#f58a6e" stroke-width="2.6"/>
<line x1="924.3" y1="1779.7" x2="924.3" y2="1816.0" stroke="#f58a6e" stroke-width="2.6"/>
<line x1="944.5" y1="1700.9" x2="944.5" y2="1731.0" stroke="#f58a6e" stroke-width="2.6"/>
<line x1="985.0" y1="1800.0" x2="985.0" y2="1832.0" stroke="#f58a6e" stroke-width="2.6"/>
<line x1="1005.3" y1="1704.7" x2="1005.3" y2="1727.0" stroke="#f58a6e" stroke-width="2.6"/>
<line x1="438.4" y1="1802.0" x2="438.4" y2="1822.0" stroke="#f58a6e" stroke-width="2.6"/>
<line x1="559.8" y1="1733.0" x2="559.8" y2="1752.0" stroke="#f58a6e" stroke-width="2.6"/>
<rect x="127.5" y="1764.4" width="14.4" height="14.4" fill="#4b28a0"/>
<rect x="147.7" y="1792.8" width="14.4" height="14.4" fill="#4b28a0"/>
<rect x="208.5" y="1747.3" width="14.4" height="14.4" fill="#4b28a0"/>
<rect x="269.2" y="1734.8" width="14.4" height="14.4" fill="#4b28a0"/>
<rect x="309.7" y="1712.1" width="14.4" height="14.4" fill="#4b28a0"/>
<rect x="329.9" y="1709.2" width="14.4" height="14.4" fill="#4b28a0"/>
<rect x="370.4" y="1692.1" width="14.4" height="14.4" fill="#4b28a0"/>
<rect x="390.7" y="1738.8" width="14.4" height="14.4" fill="#4b28a0"/>
<rect x="431.2" y="1660.3" width="14.4" height="14.4" fill="#4b28a0"/>
<rect x="451.4" y="1695.5" width="14.4" height="14.4" fill="#4b28a0"/>
<rect x="491.9" y="1720.5" width="14.4" height="14.4" fill="#4b28a0"/>
<rect x="512.2" y="1698.9" width="14.4" height="14.4" fill="#4b28a0"/>
<rect x="552.6" y="1652.8" width="14.4" height="14.4" fill="#4b28a0"/>
<rect x="572.9" y="1700.1" width="14.4" height="14.4" fill="#4b28a0"/>
<rect x="613.4" y="1735.3" width="14.4" height="14.4" fill="#4b28a0"/>
<rect x="633.6" y="1750.1" width="14.4" height="14.4" fill="#4b28a0"/>
<rect x="674.1" y="2033.0" width="14.4" height="14.4" fill="#4b28a0"/>
<rect x="694.4" y="1998.8" width="14.4" height="14.4" fill="#4b28a0"/>
<rect x="734.9" y="2045.0" width="14.4" height="14.4" fill="#4b28a0"/>
<rect x="755.1" y="2037.0" width="14.4" height="14.4" fill="#4b28a0"/>
<rect x="795.6" y="2002.0" width="14.4" height="14.4" fill="#4b28a0"/>
<rect x="815.9" y="1954.6" width="14.4" height="14.4" fill="#4b28a0"/>
<rect x="856.3" y="1967.0" width="14.4" height="14.4" fill="#4b28a0"/>
<rect x="876.6" y="1903.5" width="14.4" height="14.4" fill="#4b28a0"/>
<rect x="917.1" y="1947.8" width="14.4" height="14.4" fill="#4b28a0"/>
<rect x="937.3" y="1868.3" width="14.4" height="14.4" fill="#4b28a0"/>
<rect x="998.1" y="1911.4" width="14.4" height="14.4" fill="#4b28a0"/>
<circle cx="134.7" cy="1707.5" r="7.2" fill="#a42aae"/>
<circle cx="154.9" cy="1667.7" r="7.2" fill="#a42aae"/>
<circle cx="215.7" cy="1644.3" r="7.2" fill="#a42aae"/>
<circle cx="276.4" cy="1640.9" r="7.2" fill="#a42aae"/>
<circle cx="316.9" cy="1633.6" r="7.2" fill="#a42aae"/>
<circle cx="337.1" cy="1648.5" r="7.2" fill="#a42aae"/>
<circle cx="377.6" cy="1658.4" r="7.2" fill="#a42aae"/>
<circle cx="397.9" cy="1645.9" r="7.2" fill="#a42aae"/>
<circle cx="438.4" cy="1647.0" r="7.2" fill="#a42aae"/>
<circle cx="458.6" cy="1627.7" r="7.2" fill="#a42aae"/>
<circle cx="499.1" cy="1655.0" r="7.2" fill="#a42aae"/>
<circle cx="519.4" cy="1606.1" r="7.2" fill="#a42aae"/>
<circle cx="559.8" cy="1628.4" r="7.2" fill="#a42aae"/>
<circle cx="580.1" cy="1650.9" r="7.2" fill="#a42aae"/>
<circle cx="620.6" cy="1750.5" r="7.2" fill="#a42aae"/>
<circle cx="640.8" cy="1780.0" r="7.2" fill="#a42aae"/>
<circle cx="681.3" cy="2010.8" r="7.2" fill="#a42aae"/>
<circle cx="701.6" cy="1999.0" r="7.2" fill="#a42aae"/>
<circle cx="742.1" cy="2018.4" r="7.2" fill="#a42aae"/>
<circle cx="762.3" cy="1995.0" r="7.2" fill="#a42aae"/>
<circle cx="802.8" cy="2031.2" r="7.2" fill="#a42aae"/>
<circle cx="823.1" cy="2031.1" r="7.2" fill="#a42aae"/>
<circle cx="863.5" cy="1993.6" r="7.2" fill="#a42aae"/>
<circle cx="883.8" cy="1977.7" r="7.2" fill="#a42aae"/>
<circle cx="924.3" cy="1973.2" r="7.2" fill="#a42aae"/>
<circle cx="944.5" cy="1936.8" r="7.2" fill="#a42aae"/>
<circle cx="1005.3" cy="1867.5" r="7.2" fill="#a42aae"/>
<path d="M134.7,1769.1L144.4,1785.9L125.0,1785.9Z" fill="#ea4888"/>
<path d="M154.9,1772.5L164.6,1789.3L145.2,1789.3Z" fill="#ea4888"/>
<path d="M215.7,1765.6L225.4,1782.4L206.0,1782.4Z" fill="#ea4888"/>
<path d="M276.4,1751.0L286.1,1767.8L266.7,1767.8Z" fill="#ea4888"/>
<path d="M316.9,1764.8L326.6,1781.6L307.2,1781.6Z" fill="#ea4888"/>
<path d="M337.1,1736.6L346.8,1753.4L327.4,1753.4Z" fill="#ea4888"/>
<path d="M377.6,1794.6L387.3,1811.4L367.9,1811.4Z" fill="#ea4888"/>
<path d="M397.9,1738.8L407.6,1755.6L388.2,1755.6Z" fill="#ea4888"/>
<path d="M438.4,1778.7L448.1,1795.5L428.7,1795.5Z" fill="#ea4888"/>
<path d="M458.6,1741.2L468.3,1758.0L448.9,1758.0Z" fill="#ea4888"/>
<path d="M499.1,1774.1L508.8,1790.9L489.4,1790.9Z" fill="#ea4888"/>
<path d="M519.4,1748.8L529.1,1765.6L509.7,1765.6Z" fill="#ea4888"/>
<path d="M559.8,1726.8L569.5,1743.6L550.1,1743.6Z" fill="#ea4888"/>
<path d="M580.1,1730.8L589.8,1747.6L570.4,1747.6Z" fill="#ea4888"/>
<path d="M620.6,1732.3L630.3,1749.1L610.9,1749.1Z" fill="#ea4888"/>
<path d="M640.8,1756.3L650.5,1773.1L631.1,1773.1Z" fill="#ea4888"/>
<path d="M681.3,2051.6L691.0,2068.4L671.6,2068.4Z" fill="#ea4888"/>
<path d="M701.6,1947.2L711.3,1964.0L691.9,1964.0Z" fill="#ea4888"/>
<path d="M742.1,2034.8L751.8,2051.6L732.4,2051.6Z" fill="#ea4888"/>
<path d="M802.8,1936.6L812.5,1953.4L793.1,1953.4Z" fill="#ea4888"/>
<path d="M823.1,1934.0L832.8,1950.8L813.4,1950.8Z" fill="#ea4888"/>
<path d="M863.5,1901.8L873.2,1918.6L853.8,1918.6Z" fill="#ea4888"/>
<path d="M883.8,1859.3L893.5,1876.1L874.1,1876.1Z" fill="#ea4888"/>
<path d="M924.3,1878.8L934.0,1895.6L914.6,1895.6Z" fill="#ea4888"/>
<path d="M944.5,1817.3L954.2,1834.1L934.8,1834.1Z" fill="#ea4888"/>
<path d="M1005.3,1828.8L1015.0,1845.6L995.6,1845.6Z" fill="#ea4888"/>
<path d="M134.7,1926.5L141.9,1933.7L134.7,1940.9L127.5,1933.7Z" fill="#f58a6e"/>
<path d="M195.4,1907.1L202.6,1914.3L195.4,1921.5L188.2,1914.3Z" fill="#f58a6e"/>
<path d="M256.1,1890.1L263.3,1897.3L256.1,1904.5L248.9,1897.3Z" fill="#f58a6e"/>
<path d="M316.9,1828.8L324.1,1836.0L316.9,1843.2L309.7,1836.0Z" fill="#f58a6e"/>
<path d="M377.6,1836.4L384.8,1843.6L377.6,1850.8L370.4,1843.6Z" fill="#f58a6e"/>
<path d="M438.4,1804.6L445.6,1811.8L438.4,1819.0L431.2,1811.8Z" fill="#f58a6e"/>
<path d="M519.4,1710.3L526.6,1717.5L519.4,1724.7L512.2,1717.5Z" fill="#f58a6e"/>
<path d="M559.8,1735.3L567.0,1742.5L559.8,1749.7L552.6,1742.5Z" fill="#f58a6e"/>
<path d="M620.6,1701.2L627.8,1708.4L620.6,1715.6L613.4,1708.4Z" fill="#f58a6e"/>
<path d="M681.3,2040.3L688.5,2047.5L681.3,2054.7L674.1,2047.5Z" fill="#f58a6e"/>
<path d="M742.1,1990.0L749.3,1997.2L742.1,2004.4L734.9,1997.2Z" fill="#f58a6e"/>
<path d="M762.3,1959.8L769.5,1967.0L762.3,1974.2L755.1,1967.0Z" fill="#f58a6e"/>
<path d="M802.8,1960.3L810.0,1967.5L802.8,1974.7L795.6,1967.5Z" fill="#f58a6e"/>
<path d="M883.8,1834.2L891.0,1841.4L883.8,1848.6L876.6,1841.4Z" fill="#f58a6e"/>
<path d="M924.3,1790.7L931.5,1797.9L924.3,1805.1L917.1,1797.9Z" fill="#f58a6e"/>
<path d="M944.5,1708.9L951.7,1716.1L944.5,1723.3L937.3,1716.1Z" fill="#f58a6e"/>
<path d="M985.0,1808.9L992.2,1816.1L985.0,1823.3L977.8,1816.1Z" fill="#f58a6e"/>
<path d="M1005.3,1708.6L1012.5,1715.8L1005.3,1723.0L998.1,1715.8Z" fill="#f58a6e"/>
<text transform="translate(25.5,1859.5) rotate(-90)" font-size="29.5" text-anchor="middle" textLength="293.7" lengthAdjust="spacingAndGlyphs"><tspan font-style="italic">Pisaster</tspan> diameter (cm)</text>
<text x="542.0" y="2257.7" font-size="26.5" text-anchor="start" textLength="57.5" lengthAdjust="spacingAndGlyphs">Year</text>
</svg></body></html>
